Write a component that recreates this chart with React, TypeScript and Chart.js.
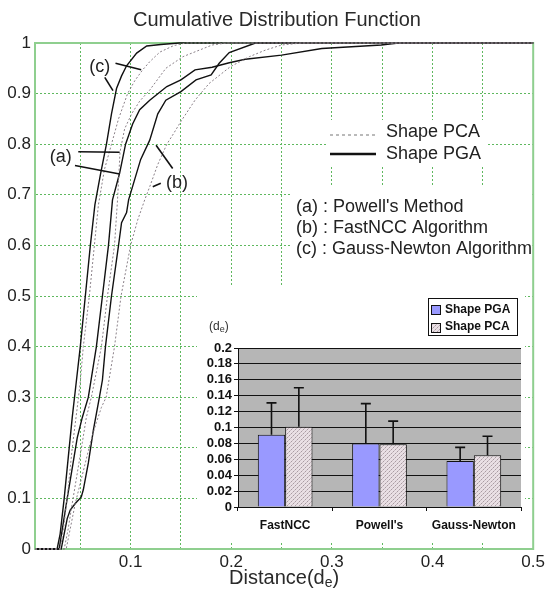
import React, { useEffect, useRef } from 'react';
import { Chart, registerables } from 'chart.js';
Chart.register(...registerables);

const FONT = "'Liberation Sans', Arial, Helvetica, sans-serif";

// ---------- main chart data (CDF curves) ----------
const gnPgaX = [0.005, 0.027, 0.030, 0.034, 0.038, 0.042, 0.046, 0.050, 0.055, 0.060, 0.0645, 0.070, 0.076, 0.081, 0.086, 0.091, 0.096, 0.106, 0.116, 0.130, 0.148, 0.500];
const gnPgaY = [0, 0, 0.03, 0.10, 0.18, 0.26, 0.33, 0.40, 0.50, 0.60, 0.68, 0.74, 0.80, 0.86, 0.91, 0.935, 0.955, 0.98, 0.994, 0.997, 1, 1];

const gnPcaX = [0.005, 0.030, 0.034, 0.038, 0.042, 0.047, 0.050, 0.053, 0.059, 0.064, 0.068, 0.074, 0.081, 0.088, 0.097, 0.104, 0.112, 0.119, 0.129, 0.143, 0.155, 0.500];
const gnPcaY = [0, 0, 0.05, 0.12, 0.20, 0.28, 0.33, 0.40, 0.50, 0.60, 0.68, 0.75, 0.80, 0.85, 0.90, 0.925, 0.947, 0.963, 0.982, 0.995, 1, 1];

const pwPgaX = [0.005, 0.029, 0.033, 0.037, 0.042, 0.047, 0.052, 0.058, 0.062, 0.066, 0.072, 0.078, 0.082, 0.089, 0.095, 0.102, 0.109, 0.119, 0.136, 0.150, 0.164, 0.181, 0.198, 0.214, 0.250, 0.290, 0.349, 0.366, 0.500];
const pwPgaY = [0, 0, 0.05, 0.10, 0.16, 0.22, 0.26, 0.30, 0.35, 0.40, 0.50, 0.60, 0.69, 0.742, 0.80, 0.84, 0.868, 0.887, 0.914, 0.927, 0.947, 0.952, 0.961, 0.968, 0.976, 0.989, 0.996, 1, 1];

const pwPcaX = [0.005, 0.034, 0.038, 0.042, 0.047, 0.052, 0.056, 0.061, 0.066, 0.071, 0.077, 0.084, 0.087, 0.0895, 0.094, 0.101, 0.109, 0.119, 0.135, 0.152, 0.181, 0.195, 0.500];
const pwPcaY = [0, 0, 0.04, 0.09, 0.15, 0.21, 0.26, 0.30, 0.35, 0.40, 0.50, 0.60, 0.69, 0.785, 0.83, 0.86, 0.885, 0.907, 0.95, 0.973, 0.996, 1, 1];

const fnPgaX = [0.005, 0.031, 0.034, 0.037, 0.040, 0.045, 0.051, 0.053, 0.058, 0.063, 0.069, 0.072, 0.075, 0.081, 0.088, 0.091, 0.096, 0.098, 0.104, 0.110, 0.119, 0.127, 0.135, 0.150, 0.165, 0.180, 0.188, 0.198, 0.224, 0.500];
const fnPgaY = [0, 0, 0.03, 0.06, 0.077, 0.09, 0.103, 0.117, 0.17, 0.235, 0.30, 0.334, 0.40, 0.50, 0.60, 0.645, 0.665, 0.69, 0.73, 0.77, 0.808, 0.86, 0.887, 0.904, 0.927, 0.937, 0.96, 0.981, 1, 1];

const fnPcaX = [0.005, 0.036, 0.040, 0.045, 0.050, 0.055, 0.060, 0.066, 0.071, 0.0757, 0.084, 0.0905, 0.100, 0.107, 0.114, 0.119, 0.127, 0.136, 0.143, 0.150, 0.164, 0.178, 0.199, 0.218, 0.234, 0.250, 0.270, 0.500];
const fnPcaY = [0, 0, 0.04, 0.09, 0.13, 0.17, 0.21, 0.25, 0.28, 0.30, 0.40, 0.50, 0.60, 0.65, 0.69, 0.716, 0.76, 0.80, 0.822, 0.845, 0.887, 0.92, 0.953, 0.973, 0.986, 0.996, 1, 1];

const xGridValues = [0.05, 0.1, 0.15, 0.2, 0.25, 0.3, 0.35, 0.4, 0.45, 0.5];
const xLabelValues = [0.1, 0.2, 0.3, 0.4, 0.5];

const legendNames = ['Shape PCA', 'Shape PGA'];
const methodNotes = ["(a) : Powell's Method", '(b) : FastNCC Algorithm', '(c) : Gauss-Newton Algorithm'];

// annotation labels and leader lines, in data coordinates
const noteLabels = [
  { text: '(c)', x: 0.0694, y: 0.953 },
  { text: '(a)', x: 0.0307, y: 0.775 },
  { text: '(b)', x: 0.146, y: 0.723 },
];
const noteLeaders = [
  [0.085, 0.960, 0.1105, 0.947],
  [0.0743, 0.932, 0.0825, 0.906],
  [0.048, 0.785, 0.0891, 0.784],
  [0.0447, 0.758, 0.0891, 0.741],
  [0.1253, 0.798, 0.1418, 0.752],
  [0.122, 0.716, 0.130, 0.723],
];

// ---------- inset bar chart data ----------
const barCategories = ['FastNCC', "Powell's", 'Gauss-Newton'];
const pgaMeans = [0.091, 0.080, 0.058];
const pcaMeans = [0.101, 0.079, 0.065];
const pgaErrTop = [0.131, 0.130, 0.075];
const pcaErrTop = [0.150, 0.108, 0.089];
const insetTicks = [0, 0.02, 0.04, 0.06, 0.08, 0.1, 0.12, 0.14, 0.16, 0.18, 0.2];

const toPts = (xs: number[], ys: number[]) => xs.map((x, i) => ({ x, y: ys[i] }));

function MainChart() {
  const ref = useRef<HTMLCanvasElement>(null);
  useEffect(() => {
    const canvas = ref.current!;
    const overlay = {
      id: 'overlay',
      beforeDatasetsDraw(chart: any) {
        const ctx = chart.ctx;
        const a = chart.chartArea;
        ctx.save();
        ctx.fillStyle = '#ffffff';
        ctx.fillRect(326, 120, 160, 46);
        ctx.fillRect(292, 186, a.right - 1 - 292, 104);
        ctx.strokeStyle = '#8fcf8f';
        ctx.lineWidth = 2;
        ctx.strokeRect(a.left, a.top, a.right - a.left, a.bottom - a.top);
        ctx.restore();
      },
      afterDatasetsDraw(chart: any) {
        const ctx = chart.ctx;
        const xs = chart.scales.x;
        const ys = chart.scales.y;
        ctx.save();
        ctx.strokeStyle = '#111';
        ctx.lineWidth = 1.6;
        noteLeaders.forEach(([x1, y1, x2, y2]) => {
          ctx.beginPath();
          ctx.moveTo(xs.getPixelForValue(x1), ys.getPixelForValue(y1));
          ctx.lineTo(xs.getPixelForValue(x2), ys.getPixelForValue(y2));
          ctx.stroke();
        });
        ctx.fillStyle = '#222';
        ctx.font = `18px ${FONT}`;
        ctx.textAlign = 'center';
        ctx.textBaseline = 'middle';
        noteLabels.forEach((n) => {
          ctx.fillText(n.text, xs.getPixelForValue(n.x), ys.getPixelForValue(n.y));
        });
        ctx.restore();
      },
      afterDraw(chart: any) {
        const ctx = chart.ctx;
        const a = chart.chartArea;
        ctx.save();
        // title
        ctx.fillStyle = '#2a2a2a';
        ctx.font = `20px ${FONT}`;
        ctx.textAlign = 'center';
        ctx.textBaseline = 'middle';
        ctx.fillText('Cumulative Distribution Function', 277, 20);
        // x axis title with subscript
        ctx.font = `20px ${FONT}`;
        const main = 'Distance(d';
        const w1 = ctx.measureText(main).width;
        ctx.font = `14px ${FONT}`;
        const w2 = ctx.measureText('e').width;
        ctx.font = `20px ${FONT}`;
        const w3 = ctx.measureText(')').width;
        const cx = (a.left + a.right) / 2;
        const sx = cx - (w1 + w2 + w3) / 2;
        ctx.textAlign = 'left';
        ctx.fillText(main, sx, 578);
        ctx.font = `14px ${FONT}`;
        ctx.fillText('e', sx + w1, 583);
        ctx.font = `20px ${FONT}`;
        ctx.fillText(')', sx + w1 + w2, 578);
        // legend
        ctx.strokeStyle = '#777';
        ctx.lineWidth = 1;
        ctx.setLineDash([3, 3]);
        ctx.beginPath();
        ctx.moveTo(330, 135);
        ctx.lineTo(376, 135);
        ctx.stroke();
        ctx.setLineDash([]);
        ctx.strokeStyle = '#111';
        ctx.lineWidth = 2.5;
        ctx.beginPath();
        ctx.moveTo(330, 154);
        ctx.lineTo(376, 154);
        ctx.stroke();
        ctx.fillStyle = '#222';
        ctx.font = `18px ${FONT}`;
        ctx.fillText(legendNames[0], 386, 132);
        ctx.fillText(legendNames[1], 386, 154);
        methodNotes.forEach((t, i) => ctx.fillText(t, 296, 207 + i * 21));
        ctx.restore();
      },
    };
    const dotted = { borderColor: '#8a8088', borderWidth: 1, borderDash: [2, 2] };
    const solid = { borderColor: '#111', borderWidth: 1.4 };
    const chart = new Chart(canvas, {
      type: 'line',
      data: {
        datasets: [
          { label: 'GN PCA', data: toPts(gnPcaX, gnPcaY), ...dotted },
          { label: 'Powell PCA', data: toPts(pwPcaX, pwPcaY), ...dotted },
          { label: 'FastNCC PCA', data: toPts(fnPcaX, fnPcaY), ...dotted },
          { label: 'GN PGA', data: toPts(gnPgaX, gnPgaY), ...solid },
          { label: 'Powell PGA', data: toPts(pwPgaX, pwPgaY), ...solid },
          { label: 'FastNCC PGA', data: toPts(fnPgaX, fnPgaY), ...solid },
        ] as any,
      },
      options: {
        responsive: false,
        animation: false,
        devicePixelRatio: 1,
        layout: { padding: { left: 0, right: 12, top: 43, bottom: 0 } },
        elements: { point: { radius: 0 }, line: { tension: 0 } },
        datasets: { line: { clip: 4 } } as any,
        plugins: { legend: { display: false }, title: { display: false }, tooltip: { enabled: false } },
        scales: {
          x: {
            type: 'linear',
            min: 0.005,
            max: 0.5,
            afterFit(s: any) { s.height = 41; },
            afterBuildTicks(s: any) { s.ticks = xGridValues.map((v) => ({ value: v })); },
            grid: { color: '#5fb85f', lineWidth: 1, drawTicks: false },
            border: { display: true, color: '#8fcf8f', width: 2, dash: [2, 2] },
            ticks: {
              autoSkip: false,
              maxRotation: 0,
              padding: 3,
              color: '#222',
              font: { family: FONT, size: 17 },
              callback: (v: any) => {
                const r = Math.round(Number(v) * 100) / 100;
                return xLabelValues.includes(r) ? String(r) : '';
              },
            },
          },
          y: {
            type: 'linear',
            min: 0,
            max: 1,
            afterFit(s: any) { s.width = 35; },
            grid: { color: '#5fb85f', lineWidth: 1, drawTicks: false },
            border: { display: true, color: '#8fcf8f', width: 2, dash: [2, 2] },
            ticks: {
              stepSize: 0.1,
              autoSkip: false,
              padding: 4,
              color: '#222',
              font: { family: FONT, size: 17 },
              callback: (v: any) => String(Math.round(Number(v) * 10) / 10),
            },
          },
        },
      } as any,
      plugins: [overlay],
    });
    return () => chart.destroy();
  }, []);
  return <canvas ref={ref} width={548} height={590} style={{ position: 'absolute', left: 0, top: 0, width: 548, height: 590 }} />;
}

function makePattern(): CanvasPattern | string {
  const c = document.createElement('canvas');
  c.width = 4;
  c.height = 4;
  const g = c.getContext('2d');
  if (!g) return '#d8cdd2';
  g.fillStyle = '#e9dfe4';
  g.fillRect(0, 0, 4, 4);
  g.fillStyle = '#a99ba2';
  g.fillRect(0, 0, 1, 1);
  g.fillRect(2, 2, 1, 1);
  g.fillStyle = '#c8bcc2';
  g.fillRect(1, 3, 1, 1);
  g.fillRect(3, 1, 1, 1);
  const p = g.createPattern(c, 'repeat');
  return p || '#d8cdd2';
}

function InsetChart() {
  const ref = useRef<HTMLCanvasElement>(null);
  useEffect(() => {
    const canvas = ref.current!;
    const pattern = makePattern();
    const insetPlugin = {
      id: 'insetPlugin',
      beforeDraw(chart: any) {
        const ctx = chart.ctx;
        const a = chart.chartArea;
        ctx.save();
        ctx.fillStyle = '#ffffff';
        ctx.fillRect(0, 0, chart.width, chart.height);
        ctx.fillStyle = '#b6b6b6';
        ctx.fillRect(a.left, a.top, a.right - a.left, a.bottom - a.top);
        ctx.restore();
      },
      afterDatasetsDraw(chart: any) {
        const ctx = chart.ctx;
        const ys = chart.scales.y;
        const errs = [pgaErrTop, pcaErrTop];
        const means = [pgaMeans, pcaMeans];
        ctx.save();
        ctx.strokeStyle = '#111';
        ctx.lineWidth = 1.6;
        errs.forEach((err, di) => {
          const meta = chart.getDatasetMeta(di);
          meta.data.forEach((bar: any, j: number) => {
            const x = bar.x;
            const y0 = ys.getPixelForValue(means[di][j]);
            const y1 = ys.getPixelForValue(err[j]);
            ctx.beginPath();
            ctx.moveTo(x, y0);
            ctx.lineTo(x, y1);
            ctx.moveTo(x - 5, y1);
            ctx.lineTo(x + 5, y1);
            ctx.stroke();
          });
        });
        ctx.restore();
      },
      afterDraw(chart: any) {
        const ctx = chart.ctx;
        ctx.save();
        // legend box
        ctx.fillStyle = '#ffffff';
        ctx.fillRect(231, 11, 89, 37);
        ctx.strokeStyle = '#111';
        ctx.lineWidth = 1;
        ctx.strokeRect(231.5, 11.5, 89, 37);
        ctx.fillStyle = '#9999ff';
        ctx.fillRect(234, 18, 9, 9);
        ctx.strokeRect(234.5, 18.5, 9, 9);
        ctx.fillStyle = pattern as any;
        ctx.fillRect(234, 36, 9, 9);
        ctx.strokeRect(234.5, 36.5, 9, 9);
        ctx.fillStyle = '#111';
        ctx.font = `bold 12px ${FONT}`;
        ctx.textAlign = 'left';
        ctx.textBaseline = 'middle';
        ctx.fillText('Shape PGA', 248, 23);
        ctx.fillText('Shape PCA', 248, 40);
        // unit label (d_e)
        ctx.fillStyle = '#333';
        ctx.font = `12px ${FONT}`;
        const w1 = ctx.measureText('(d').width;
        ctx.fillText('(d', 12, 40);
        ctx.font = `9px ${FONT}`;
        const w2 = ctx.measureText('e').width;
        ctx.fillText('e', 12 + w1, 43);
        ctx.font = `12px ${FONT}`;
        ctx.fillText(')', 12 + w1 + w2, 40);
        ctx.restore();
      },
    };
    const chart = new Chart(canvas, {
      type: 'bar',
      data: {
        labels: barCategories,
        datasets: [
          { label: 'Shape PGA', data: pgaMeans, backgroundColor: '#9999ff', borderColor: '#111', borderWidth: 1 },
          { label: 'Shape PCA', data: pcaMeans, backgroundColor: pattern as any, borderColor: '#111', borderWidth: 1 },
        ],
      },
      options: {
        responsive: false,
        animation: false,
        devicePixelRatio: 1,
        layout: { padding: { left: 0, right: 4, top: 61, bottom: 0 } },
        datasets: { bar: { categoryPercentage: 0.58, barPercentage: 1 } } as any,
        plugins: { legend: { display: false }, title: { display: false }, tooltip: { enabled: false } },
        scales: {
          x: {
            afterFit(s: any) { s.height = 34; },
            grid: { drawOnChartArea: false, color: '#111', tickLength: 4, offset: true },
            border: { color: '#111', width: 1 },
            ticks: { autoSkip: false, maxRotation: 0, padding: 7, color: '#111', font: { family: FONT, size: 12, weight: 'bold' } },
          },
          y: {
            min: 0,
            max: 0.2,
            afterFit(s: any) { s.width = 41; },
            afterBuildTicks(s: any) { s.ticks = insetTicks.map((v) => ({ value: v })); },
            grid: { color: '#111', lineWidth: 1, tickLength: 4 },
            border: { color: '#111', width: 1 },
            ticks: {
              autoSkip: false,
              padding: 2,
              color: '#111',
              font: { family: FONT, size: 13, weight: 'bold' },
              callback: (v: any) => String(Math.round(Number(v) * 100) / 100),
            },
          },
        },
      } as any,
      plugins: [insetPlugin],
    });
    return () => chart.destroy();
  }, []);
  return <canvas ref={ref} width={328} height={254} style={{ position: 'absolute', left: 197, top: 287, width: 328, height: 254 }} />;
}

export default function App() {
  return (
    <div style={{ position: 'absolute', left: 0, top: 0, width: 548, height: 590, background: '#fff' }}>
      <MainChart />
      <InsetChart />
    </div>
  );
}
